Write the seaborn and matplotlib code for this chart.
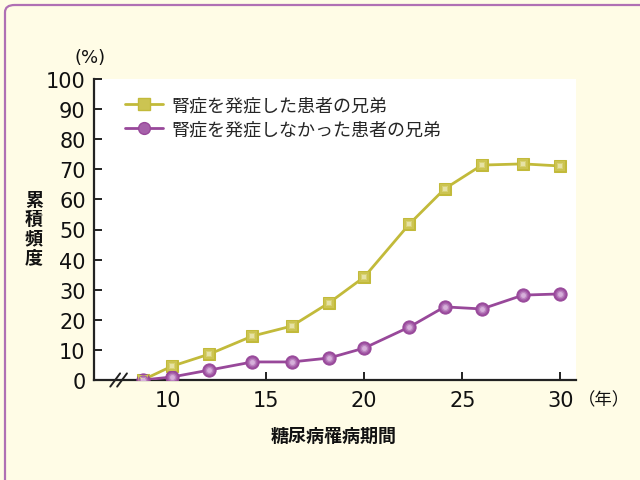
import matplotlib
matplotlib.use("Agg")
import matplotlib.pyplot as plt
import seaborn as sns
import pandas as pd
from matplotlib.patches import FancyBboxPatch
from matplotlib.lines import Line2D

years = [8.7, 10.2, 12.1, 14.3, 16.3, 18.2, 20.0, 22.3, 24.1, 26.0, 28.1, 30.0]
onset = [0, 4.6, 8.6, 14.6, 17.9, 25.6, 34.2, 51.8, 63.5, 71.4, 71.8, 71.1]
no_onset = [0, 1.0, 3.3, 6.0, 6.0, 7.3, 10.6, 17.6, 24.3, 23.6, 28.2, 28.6]
labels = ["腎症を発症した患者の兄弟", "腎症を発症しなかった患者の兄弟"]
yticks = [0, 10, 20, 30, 40, 50, 60, 70, 80, 90, 100]
xticks = [10, 15, 20, 25, 30]

sns.set_theme(style="white")
plt.rcParams['font.family'] = ['DejaVu Sans', 'Noto Sans CJK JP']
JP = ['Noto Sans CJK JP', 'DejaVu Sans']

BG = "#fffce6"
YEL = "#c2ba3a"
YEL_GRAD = ["#ccc452", "#d8d274", "#e6e2a6"]
PUR = "#98489a"
PUR_GRAD = ["#a660aa", "#bc84c0", "#d6b0da"]

fig = plt.figure(figsize=(6.4, 4.81), dpi=100)
fig.patch.set_facecolor(BG)
border = FancyBboxPatch((5/640, -0.05), 1.1, 1.0 - 6/481 + 0.05,
                        boxstyle="round,pad=0,rounding_size=0.015",
                        transform=fig.transFigure, facecolor="none",
                        edgecolor="#b070b4", linewidth=1.6, clip_on=False)
fig.patches.append(border)

ax = fig.add_axes([94/640, 1 - 381/481, (576 - 94)/640, (381 - 80)/481])
ax.set_facecolor("white")

df = pd.DataFrame({
    "year": years * 2,
    "value": onset + no_onset,
    "group": [labels[0]] * len(years) + [labels[1]] * len(years),
})

sns.lineplot(data=df[df.group == labels[0]], x="year", y="value", ax=ax,
             color=YEL, linewidth=2.0, marker="s", markersize=9,
             markerfacecolor=YEL, markeredgecolor=YEL, zorder=3, legend=False)
sns.lineplot(data=df[df.group == labels[1]], x="year", y="value", ax=ax,
             color=PUR, linewidth=2.0, marker="o", markersize=9.5,
             markerfacecolor=PUR, markeredgecolor=PUR, zorder=3, legend=False)
# shaded markers (lighter towards the centre)
for i, (cy, cp) in enumerate(zip(YEL_GRAD, PUR_GRAD)):
    ax.plot(years, onset, linestyle="none", marker="s", markersize=7 - 2 * i,
            color=cy, markeredgewidth=0, zorder=4 + i)
    ax.plot(years, no_onset, linestyle="none", marker="o", markersize=7.5 - 2 * i,
            color=cp, markeredgewidth=0, zorder=4 + i)

ax.set_xlim(6.22, 30.8)
ax.set_ylim(0, 100)
ax.set_xticks(xticks)
ax.set_yticks(yticks)
ax.set_xlabel("")
ax.set_ylabel("")
for s in ["top", "right"]:
    ax.spines[s].set_visible(False)
for s in ["left", "bottom"]:
    ax.spines[s].set_color("#222222")
    ax.spines[s].set_linewidth(1.6)
ax.tick_params(axis="both", direction="in", length=6, width=1.4,
               color="#222222", labelsize=15, labelcolor="#111111")
ax.tick_params(axis="x", pad=7, bottom=True)
ax.tick_params(axis="y", pad=6, left=True)

# axis break marks
for dx in (0, 0.35):
    ax.plot([7.05 + dx, 7.55 + dx], [-2.2, 2.2], color="#222222", lw=1.4,
            clip_on=False, zorder=5)

ax.grid(False)

h = [Line2D([0], [0], color=YEL, lw=2.0, marker="s", markersize=8,
            markerfacecolor=YEL_GRAD[0], markeredgecolor=YEL),
     Line2D([0], [0], color=PUR, lw=2.0, marker="o", markersize=8.5,
            markerfacecolor=PUR_GRAD[0], markeredgecolor=PUR)]
leg = ax.legend(h, labels, loc="upper left", bbox_to_anchor=(0.03, 0.995),
                frameon=False, handlelength=2.1, handletextpad=0.5,
                labelspacing=0.3, prop={"family": JP, "size": 13})

fig.text(90/640, 1 - 58/481, "(%)", ha="center", va="center", fontsize=13,
         color="#111111")
fig.text(604/640, 1 - 400/481, "（年）", ha="center", va="center", fontsize=12.5,
         family=JP, color="#111111")
fig.text(334/640, 1 - 436/481, "糖尿病罹病期間", ha="center", va="center",
         fontsize=13, family=JP, fontweight="bold", color="#111111")
fig.text(34/640, 1 - 229/481, "累\n積\n頻\n度", ha="center", va="center",
         fontsize=13, family=JP, fontweight="bold", linespacing=1.0,
         color="#111111")

fig.savefig("out.png", dpi=100, facecolor=BG)
